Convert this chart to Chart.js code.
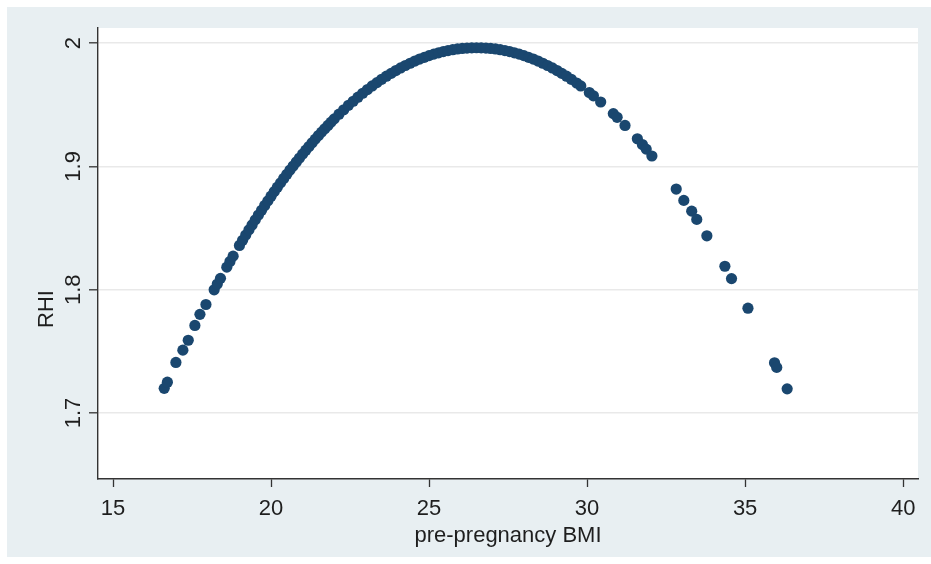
<!DOCTYPE html>
<html>
<head>
<meta charset="utf-8">
<script src="https://cdn.jsdelivr.net/npm/chart.js@4.4.1/dist/chart.umd.min.js"></script>
<style>
  html, body { margin: 0; padding: 0; background: #ffffff; }
  #wrap { width: 931px; height: 564px; }
</style>
</head>
<body>
<div id="wrap"><canvas id="c" width="931" height="564"></canvas></div>
<script>
// ---- Data ----
const bmi = [
  16.62, 16.72, 16.99, 17.21, 17.38, 17.59, 17.75, 17.94,
  18.2, 18.3, 18.4, 18.6, 18.7, 18.8, 19.0, 19.1, 19.2, 19.3, 19.4, 19.5,
  19.6, 19.7, 19.8, 19.9, 20.0, 20.1, 20.2, 20.3, 20.4, 20.5,
  20.6, 20.7, 20.8, 20.9, 21.0, 21.1, 21.2, 21.3, 21.4, 21.5,
  21.6, 21.7, 21.8, 21.9, 22.0,
  22.15, 22.3, 22.45, 22.6, 22.75, 22.9, 23.05, 23.2, 23.35, 23.5,
  23.65, 23.8, 23.95, 24.1, 24.25, 24.4, 24.55, 24.7, 24.85, 25.0,
  25.15, 25.3, 25.45, 25.6, 25.75, 25.9, 26.05, 26.2, 26.35, 26.5,
  26.65, 26.8, 26.95, 27.1, 27.25, 27.4, 27.55, 27.7, 27.85, 28.0,
  28.15, 28.3, 28.45, 28.6, 28.75, 28.9, 29.05, 29.2, 29.35,
  29.5, 29.67, 29.8, 30.07, 30.2, 30.43, 30.83, 30.95, 31.2, 31.59,
  31.75, 31.87, 32.05,
  32.82, 33.06, 33.31, 33.47, 33.79, 34.36, 34.57, 35.09, 35.93, 36.0, 36.33
];
const rhi = [
  1.7200, 1.7250, 1.7410, 1.7510, 1.7590, 1.7710, 1.7800, 1.7880,
  1.7999, 1.8046, 1.8092, 1.8183, 1.8228, 1.8272, 1.8359, 1.8401, 1.8443, 1.8485, 1.8525, 1.8566,
  1.8605, 1.8644, 1.8683, 1.8720, 1.8758, 1.8795, 1.8831, 1.8866, 1.8902, 1.8936,
  1.8970, 1.9003, 1.9036, 1.9068, 1.9100, 1.9131, 1.9161, 1.9191, 1.9221, 1.9250,
  1.9278, 1.9305, 1.9332, 1.9359, 1.9385,
  1.9423, 1.9459, 1.9495, 1.9528, 1.9561, 1.9593, 1.9623, 1.9652, 1.9679, 1.9706,
  1.9731, 1.9754, 1.9777, 1.9798, 1.9818, 1.9836, 1.9854, 1.9870, 1.9884, 1.9898,
  1.9910, 1.9921, 1.9931, 1.9939, 1.9946, 1.9952, 1.9956, 1.9959, 1.9961, 1.9962,
  1.9961, 1.9959, 1.9956, 1.9952, 1.9946, 1.9939, 1.9931, 1.9921, 1.9910, 1.9898,
  1.9884, 1.9870, 1.9854, 1.9836, 1.9818, 1.9798, 1.9777, 1.9754, 1.9731,
  1.9706, 1.9676, 1.9652, 1.9599, 1.9572, 1.9522, 1.9428, 1.9398, 1.9332, 1.9224,
  1.9177, 1.9140, 1.9084,
  1.8816, 1.8724, 1.8637, 1.8570, 1.8437, 1.8190, 1.8090, 1.7850, 1.7407, 1.7370, 1.7196
];
const xTicks = [15, 20, 25, 30, 35, 40];
const xTickLabels = ["15", "20", "25", "30", "35", "40"];
const yTicks = [1.7, 1.8, 1.9, 2];
const yTickLabels = ["1.7", "1.8", "1.9", "2"];
const xTitle = "pre-pregnancy BMI";
const yTitle = "RHI";

const FONT = "Arial, 'Liberation Sans', sans-serif";
const points = bmi.map((v, i) => ({ x: v, y: rhi[i] }));

const bgPlugin = {
  id: 'bg',
  beforeDraw(chart) {
    const ctx = chart.ctx, a = chart.chartArea;
    ctx.save();
    ctx.fillStyle = '#ffffff';
    ctx.fillRect(0, 0, chart.width, chart.height);
    ctx.fillStyle = '#e8eff2';
    ctx.fillRect(7, 7, chart.width - 7, 550);
    ctx.fillStyle = '#ffffff';
    ctx.fillRect(a.left, a.top, a.right - a.left, a.bottom - a.top);
    ctx.restore();
  },
  afterDraw(chart) {
    const ctx = chart.ctx, ys = chart.scales.y, a = chart.chartArea;
    ctx.save();
    ctx.fillStyle = '#1e1e1e';
    ctx.font = '22px ' + FONT;
    ctx.textAlign = 'center';
    ctx.textBaseline = 'alphabetic';
    yTicks.forEach((v, i) => {
      ctx.save();
      ctx.translate(80, ys.getPixelForValue(v));
      ctx.rotate(-Math.PI / 2);
      ctx.fillText(yTickLabels[i], 0, 0);
      ctx.restore();
    });
    ctx.save();
    ctx.translate(53, 309);
    ctx.rotate(-Math.PI / 2);
    ctx.fillText(yTitle, 0, 0);
    ctx.restore();
    ctx.fillText(xTitle, (a.left + a.right) / 2, 542);
    ctx.restore();
  }
};

new Chart(document.getElementById('c'), {
  type: 'scatter',
  data: {
    datasets: [{
      data: points,
      backgroundColor: '#1a476f',
      borderWidth: 0,
      pointRadius: 5.6,
      pointHoverRadius: 5.6
    }]
  },
  options: {
    responsive: false,
    devicePixelRatio: 1,
    animation: false,
    events: [],
    layout: { padding: { left: 0, top: 28, right: 13, bottom: 0 } },
    plugins: { legend: { display: false }, tooltip: { enabled: false } },
    scales: {
      x: {
        type: 'linear',
        min: 14.525,
        max: 40.47,
        afterBuildTicks(s) { s.ticks = xTicks.map(v => ({ value: v })); },
        afterFit(s) { s.height = 85; },
        grid: { drawOnChartArea: false, drawTicks: true, tickLength: 8, tickColor: '#333333', tickWidth: 1.3 },
        border: { display: true, color: '#333333', width: 1.4 },
        ticks: {
          color: '#1e1e1e',
          font: { family: FONT, size: 22 },
          padding: 9,
          maxRotation: 0,
          autoSkip: false,
          callback(v) { const i = xTicks.indexOf(v); return i >= 0 ? xTickLabels[i] : ''; }
        }
      },
      y: {
        type: 'linear',
        min: 1.6465,
        max: 2.0122,
        afterBuildTicks(s) { s.ticks = yTicks.map(v => ({ value: v })); },
        afterFit(s) { s.width = 98; },
        grid: { drawOnChartArea: true, color: '#e9e9e9', lineWidth: 1.6, drawTicks: true, tickLength: 9, tickColor: '#333333', tickWidth: 1.3 },
        border: { display: true, color: '#333333', width: 1.4 },
        ticks: { display: false }
      }
    }
  },
  plugins: [bgPlugin]
});
</script>
</body>
</html>
